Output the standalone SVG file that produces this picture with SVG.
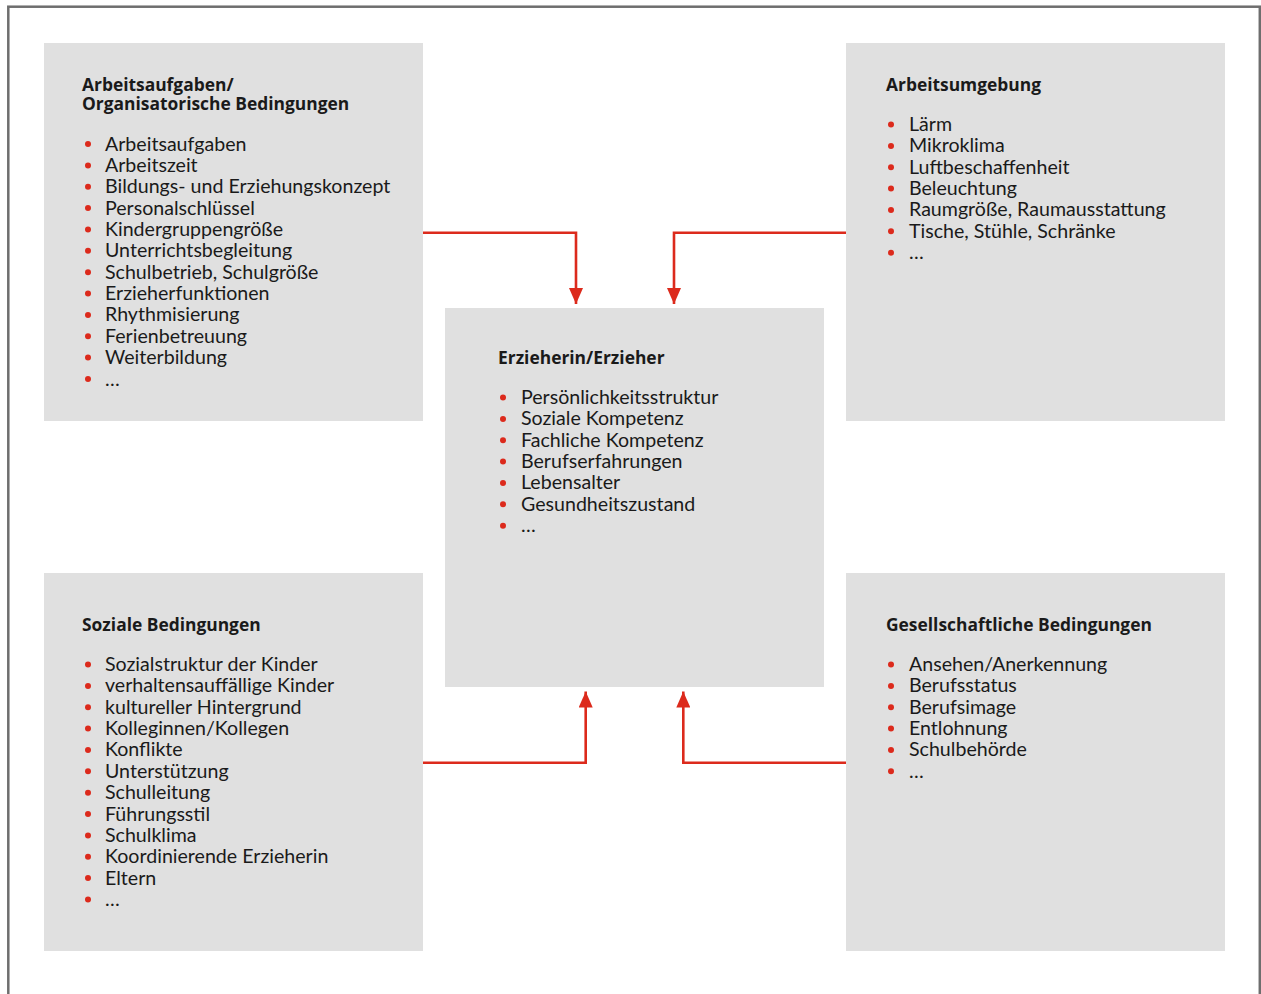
<svg xmlns="http://www.w3.org/2000/svg" width="1261" height="994" viewBox="0 0 1261 994">
<defs>
<style>
.box{fill:#e0e0e0}
.t{font-family:"Open Sans",Lato,sans-serif;font-size:17.4px;font-weight:bold;fill:#1a1a1a}
.i{font-family:Lato,"Open Sans",sans-serif;font-size:19.6px;fill:#1a1a1a}
.b{fill:#dc2a1c}
.c{fill:none;stroke:#dc2a1c;stroke-width:2.6}
</style>
<marker id="ah" viewBox="0 0 16 14" refX="16" refY="7" markerWidth="16" markerHeight="14" markerUnits="userSpaceOnUse" orient="auto">
<path d="M0,0 L16,7 L0,14 Z" fill="#dc2a1c"/>
</marker>
</defs>
<rect x="8.3" y="6.7" width="1251.5" height="1010" fill="#fff" stroke="#6e6e6e" stroke-width="2.5"/>

<g id="node-organisation">
<rect class="box" x="44" y="43" width="379" height="378"/>
<text class="t" x="82" y="90.5">Arbeitsaufgaben/<tspan x="82" y="110">Organisatorische Bedingungen</tspan></text>
<g class="b">
<circle cx="88" cy="144" r="3"/><circle cx="88" cy="165.4" r="3"/><circle cx="88" cy="186.7" r="3"/><circle cx="88" cy="208.1" r="3"/><circle cx="88" cy="229.4" r="3"/><circle cx="88" cy="250.8" r="3"/><circle cx="88" cy="272.2" r="3"/><circle cx="88" cy="293.5" r="3"/><circle cx="88" cy="314.9" r="3"/><circle cx="88" cy="336.2" r="3"/><circle cx="88" cy="357.6" r="3"/><circle cx="88" cy="379" r="3"/>
</g>
<text class="i" x="105" y="150.5">Arbeitsaufgaben</text>
<text class="i" x="105" y="171.9">Arbeitszeit</text>
<text class="i" x="105" y="193.2">Bildungs- und Erziehungskonzept</text>
<text class="i" x="105" y="214.6">Personalschlüssel</text>
<text class="i" x="105" y="235.9">Kindergruppengröße</text>
<text class="i" x="105" y="257.3">Unterrichtsbegleitung</text>
<text class="i" x="105" y="278.7">Schulbetrieb, Schulgröße</text>
<text class="i" x="105" y="300">Erzieherfunktionen</text>
<text class="i" x="105" y="321.4">Rhythmisierung</text>
<text class="i" x="105" y="342.7">Ferienbetreuung</text>
<text class="i" x="105" y="364.1">Weiterbildung</text>
<text class="i" x="105" y="385.5">…</text>
</g>

<g id="node-umgebung">
<rect class="box" x="846" y="43" width="379" height="378"/>
<text class="t" x="886" y="90.5">Arbeitsumgebung</text>
<g class="b">
<circle cx="891" cy="124.5" r="3"/><circle cx="891" cy="145.9" r="3"/><circle cx="891" cy="167.2" r="3"/><circle cx="891" cy="188.6" r="3"/><circle cx="891" cy="209.9" r="3"/><circle cx="891" cy="231.3" r="3"/><circle cx="891" cy="252.7" r="3"/>
</g>
<text class="i" x="909" y="131">Lärm</text>
<text class="i" x="909" y="152.4">Mikroklima</text>
<text class="i" x="909" y="173.7">Luftbeschaffenheit</text>
<text class="i" x="909" y="195.1">Beleuchtung</text>
<text class="i" x="909" y="216.4">Raumgröße, Raumausstattung</text>
<text class="i" x="909" y="237.8">Tische, Stühle, Schränke</text>
<text class="i" x="909" y="259.2">…</text>
</g>

<g id="node-erzieher">
<rect class="box" x="445" y="308" width="379" height="379"/>
<text class="t" x="498" y="363.5">Erzieherin/Erzieher</text>
<g class="b">
<circle cx="503" cy="397.5" r="3"/><circle cx="503" cy="418.9" r="3"/><circle cx="503" cy="440.2" r="3"/><circle cx="503" cy="461.6" r="3"/><circle cx="503" cy="482.9" r="3"/><circle cx="503" cy="504.3" r="3"/><circle cx="503" cy="525.7" r="3"/>
</g>
<text class="i" x="521" y="404">Persönlichkeitsstruktur</text>
<text class="i" x="521" y="425.4">Soziale Kompetenz</text>
<text class="i" x="521" y="446.7">Fachliche Kompetenz</text>
<text class="i" x="521" y="468.1">Berufserfahrungen</text>
<text class="i" x="521" y="489.4">Lebensalter</text>
<text class="i" x="521" y="510.8">Gesundheitszustand</text>
<text class="i" x="521" y="532.2">…</text>
</g>

<g id="node-sozial">
<rect class="box" x="44" y="573" width="379" height="378"/>
<text class="t" x="82" y="630.5">Soziale Bedingungen</text>
<g class="b">
<circle cx="88" cy="664.5" r="3"/><circle cx="88" cy="685.9" r="3"/><circle cx="88" cy="707.2" r="3"/><circle cx="88" cy="728.6" r="3"/><circle cx="88" cy="749.9" r="3"/><circle cx="88" cy="771.3" r="3"/><circle cx="88" cy="792.7" r="3"/><circle cx="88" cy="814" r="3"/><circle cx="88" cy="835.4" r="3"/><circle cx="88" cy="856.7" r="3"/><circle cx="88" cy="878.1" r="3"/><circle cx="88" cy="899.5" r="3"/>
</g>
<text class="i" x="105" y="671">Sozialstruktur der Kinder</text>
<text class="i" x="105" y="692.4">verhaltensauffällige Kinder</text>
<text class="i" x="105" y="713.7">kultureller Hintergrund</text>
<text class="i" x="105" y="735.1">Kolleginnen/Kollegen</text>
<text class="i" x="105" y="756.4">Konflikte</text>
<text class="i" x="105" y="777.8">Unterstützung</text>
<text class="i" x="105" y="799.2">Schulleitung</text>
<text class="i" x="105" y="820.5">Führungsstil</text>
<text class="i" x="105" y="841.9">Schulklima</text>
<text class="i" x="105" y="863.2">Koordinierende Erzieherin</text>
<text class="i" x="105" y="884.6">Eltern</text>
<text class="i" x="105" y="906">…</text>
</g>

<g id="node-gesellschaft">
<rect class="box" x="846" y="573" width="379" height="378"/>
<text class="t" x="886" y="630.5">Gesellschaftliche Bedingungen</text>
<g class="b">
<circle cx="891" cy="664.5" r="3"/><circle cx="891" cy="685.9" r="3"/><circle cx="891" cy="707.2" r="3"/><circle cx="891" cy="728.6" r="3"/><circle cx="891" cy="749.9" r="3"/><circle cx="891" cy="771.3" r="3"/>
</g>
<text class="i" x="909" y="671">Ansehen/Anerkennung</text>
<text class="i" x="909" y="692.4">Berufsstatus</text>
<text class="i" x="909" y="713.7">Berufsimage</text>
<text class="i" x="909" y="735.1">Entlohnung</text>
<text class="i" x="909" y="756.4">Schulbehörde</text>
<text class="i" x="909" y="777.8">…</text>
</g>

<g id="connectors">
<path class="c" d="M423,232.7 H576 V304" marker-end="url(#ah)"/>
<path class="c" d="M846,232.7 H674 V304" marker-end="url(#ah)"/>
<path class="c" d="M423,762.7 H585.7 V691.5" marker-end="url(#ah)"/>
<path class="c" d="M846,762.7 H683.3 V691.5" marker-end="url(#ah)"/>
</g>
</svg>
